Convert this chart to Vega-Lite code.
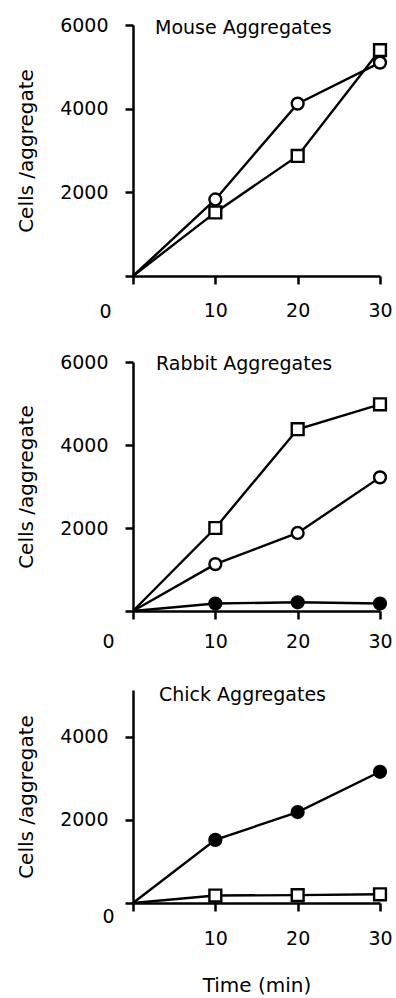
{
  "$schema": "https://vega.github.io/schema/vega-lite/v6.json",
  "background": "white",
  "padding": {"left": 16, "top": 16, "right": 5, "bottom": 5},
  "config": {
    "view": {"stroke": null},
    "font": "DejaVu Sans",
    "axis": {
      "domainColor": "black", "domainWidth": 2.5, "tickColor": "black", "tickWidth": 2.5,
      "tickSize": 8, "labelColor": "black", "labelFont": "DejaVu Sans", "labelFontSize": 19,
      "labelFlush": false, "labelOverlap": false, "format": "d",
      "titleColor": "black", "titleFont": "DejaVu Sans", "titleFontSize": 20, "titleFontWeight": "normal",
      "grid": false
    },
    "axisY": {"labelPadding": 17, "titlePadding": 23},
    "title": {"font": "DejaVu Sans", "fontSize": 19, "fontWeight": "normal", "color": "black"},
    "point": {"stroke": "black", "strokeWidth": 2.4, "size": 140, "opacity": 1},
    "line": {"color": "black", "strokeWidth": 2.4}
  },
  "datasets": {
    "cells": [
      {"panel": "Mouse", "series": "open circle", "t": 0, "cells": 0},
      {"panel": "Mouse", "series": "open circle", "t": 10, "cells": 1830},
      {"panel": "Mouse", "series": "open circle", "t": 20, "cells": 4120},
      {"panel": "Mouse", "series": "open circle", "t": 30, "cells": 5100},
      {"panel": "Mouse", "series": "open square", "t": 0, "cells": 0},
      {"panel": "Mouse", "series": "open square", "t": 10, "cells": 1520},
      {"panel": "Mouse", "series": "open square", "t": 20, "cells": 2870},
      {"panel": "Mouse", "series": "open square", "t": 30, "cells": 5400},
      {"panel": "Rabbit", "series": "open square", "t": 0, "cells": 0},
      {"panel": "Rabbit", "series": "open square", "t": 10, "cells": 2000},
      {"panel": "Rabbit", "series": "open square", "t": 20, "cells": 4380},
      {"panel": "Rabbit", "series": "open square", "t": 30, "cells": 4980},
      {"panel": "Rabbit", "series": "open circle", "t": 0, "cells": 0},
      {"panel": "Rabbit", "series": "open circle", "t": 10, "cells": 1130},
      {"panel": "Rabbit", "series": "open circle", "t": 20, "cells": 1880},
      {"panel": "Rabbit", "series": "open circle", "t": 30, "cells": 3220},
      {"panel": "Rabbit", "series": "filled circle", "t": 0, "cells": 0},
      {"panel": "Rabbit", "series": "filled circle", "t": 10, "cells": 180},
      {"panel": "Rabbit", "series": "filled circle", "t": 20, "cells": 210},
      {"panel": "Rabbit", "series": "filled circle", "t": 30, "cells": 180},
      {"panel": "Chick", "series": "filled circle", "t": 0, "cells": 0},
      {"panel": "Chick", "series": "filled circle", "t": 10, "cells": 1520},
      {"panel": "Chick", "series": "filled circle", "t": 20, "cells": 2190},
      {"panel": "Chick", "series": "filled circle", "t": 30, "cells": 3160},
      {"panel": "Chick", "series": "open square", "t": 0, "cells": 0},
      {"panel": "Chick", "series": "open square", "t": 10, "cells": 180},
      {"panel": "Chick", "series": "open square", "t": 20, "cells": 190},
      {"panel": "Chick", "series": "open square", "t": 30, "cells": 210}
    ]
  },
  "data": {"name": "cells"},
  "spacing": 35,
  "vconcat": [
    {
      "spacing": 32,
      "vconcat": [
        {
          "width": 247, "height": 251,
          "title": {"text": "Mouse Aggregates", "anchor": "start", "frame": "group", "dx": 22, "dy": 26},
          "transform": [{"filter": "datum.panel === 'Mouse'"}],
          "encoding": {
            "x": {"field": "t", "type": "quantitative", "scale": {"domain": [0, 30], "nice": false},
              "axis": {"values": [0, 10, 20, 30], "title": null,
                "labelPadding": {"condition": {"test": "datum.value === 0", "value": 18}, "value": 17},
                "labelOffset": {"condition": {"test": "datum.value === 0", "value": -28}, "value": 0}}},
            "y": {"field": "cells", "type": "quantitative", "scale": {"domain": [0, 6000], "nice": false},
              "axis": {"values": [0, 2000, 4000, 6000], "title": "Cells /aggregate",
                "labelExpr": "datum.value === 0 ? '' : datum.label"}}
          },
          "layer": [
            {"mark": "line", "encoding": {"detail": {"field": "series"}}},
            {"transform": [{"filter": "datum.t > 0"}],
              "mark": "point",
              "encoding": {
                "shape": {"field": "series", "type": "nominal", "legend": null,
                  "scale": {"domain": ["open circle", "open square", "filled circle"], "range": ["circle", "square", "circle"]}},
                "fill": {"field": "series", "type": "nominal", "legend": null,
                  "scale": {"domain": ["open circle", "open square", "filled circle"], "range": ["white", "white", "black"]}}
              }}
          ]
        },
        {
          "width": 247, "height": 249,
          "title": {"text": "Rabbit Aggregates", "anchor": "start", "frame": "group", "dx": 23, "dy": 25},
          "transform": [{"filter": "datum.panel === 'Rabbit'"}],
          "encoding": {
            "x": {"field": "t", "type": "quantitative", "scale": {"domain": [0, 30], "nice": false},
              "axis": {"values": [0, 10, 20, 30], "title": null, "labelPadding": 13,
                "labelOffset": {"condition": {"test": "datum.value === 0", "value": -25}, "value": 0}}},
            "y": {"field": "cells", "type": "quantitative", "scale": {"domain": [0, 6000], "nice": false},
              "axis": {"values": [0, 2000, 4000, 6000], "title": "Cells /aggregate",
                "labelExpr": "datum.value === 0 ? '' : datum.label"}}
          },
          "layer": [
            {"mark": "line", "encoding": {"detail": {"field": "series"}}},
            {"transform": [{"filter": "datum.t > 0"}],
              "mark": "point",
              "encoding": {
                "shape": {"field": "series", "type": "nominal", "legend": null,
                  "scale": {"domain": ["open circle", "open square", "filled circle"], "range": ["circle", "square", "circle"]}},
                "fill": {"field": "series", "type": "nominal", "legend": null,
                  "scale": {"domain": ["open circle", "open square", "filled circle"], "range": ["white", "white", "black"]}}
              }}
          ]
        }
      ]
    },
    {
      "width": 247, "height": 213,
      "title": {"text": "Chick Aggregates", "anchor": "start", "frame": "group", "dx": 26, "dy": 19},
      "transform": [{"filter": "datum.panel === 'Chick'"}],
      "encoding": {
        "x": {"field": "t", "type": "quantitative", "scale": {"domain": [0, 30], "nice": false},
          "axis": {"values": [0, 10, 20, 30], "title": "Time (min)", "titlePadding": 27,
            "labelPadding": {"condition": {"test": "datum.value === 0", "value": -4}, "value": 18},
            "labelOffset": {"condition": {"test": "datum.value === 0", "value": -25}, "value": 0}}},
        "y": {"field": "cells", "type": "quantitative", "scale": {"domain": [0, 5130], "nice": false},
          "axis": {"values": [0, 2000, 4000], "title": "Cells /aggregate",
            "labelExpr": "datum.value === 0 ? '' : datum.label"}}
      },
      "layer": [
        {"mark": "line", "encoding": {"detail": {"field": "series"}}},
        {"transform": [{"filter": "datum.t > 0"}],
          "mark": "point",
          "encoding": {
            "shape": {"field": "series", "type": "nominal", "legend": null,
              "scale": {"domain": ["open circle", "open square", "filled circle"], "range": ["circle", "square", "circle"]}},
            "fill": {"field": "series", "type": "nominal", "legend": null,
              "scale": {"domain": ["open circle", "open square", "filled circle"], "range": ["white", "white", "black"]}}
          }}
      ]
    }
  ]
}
